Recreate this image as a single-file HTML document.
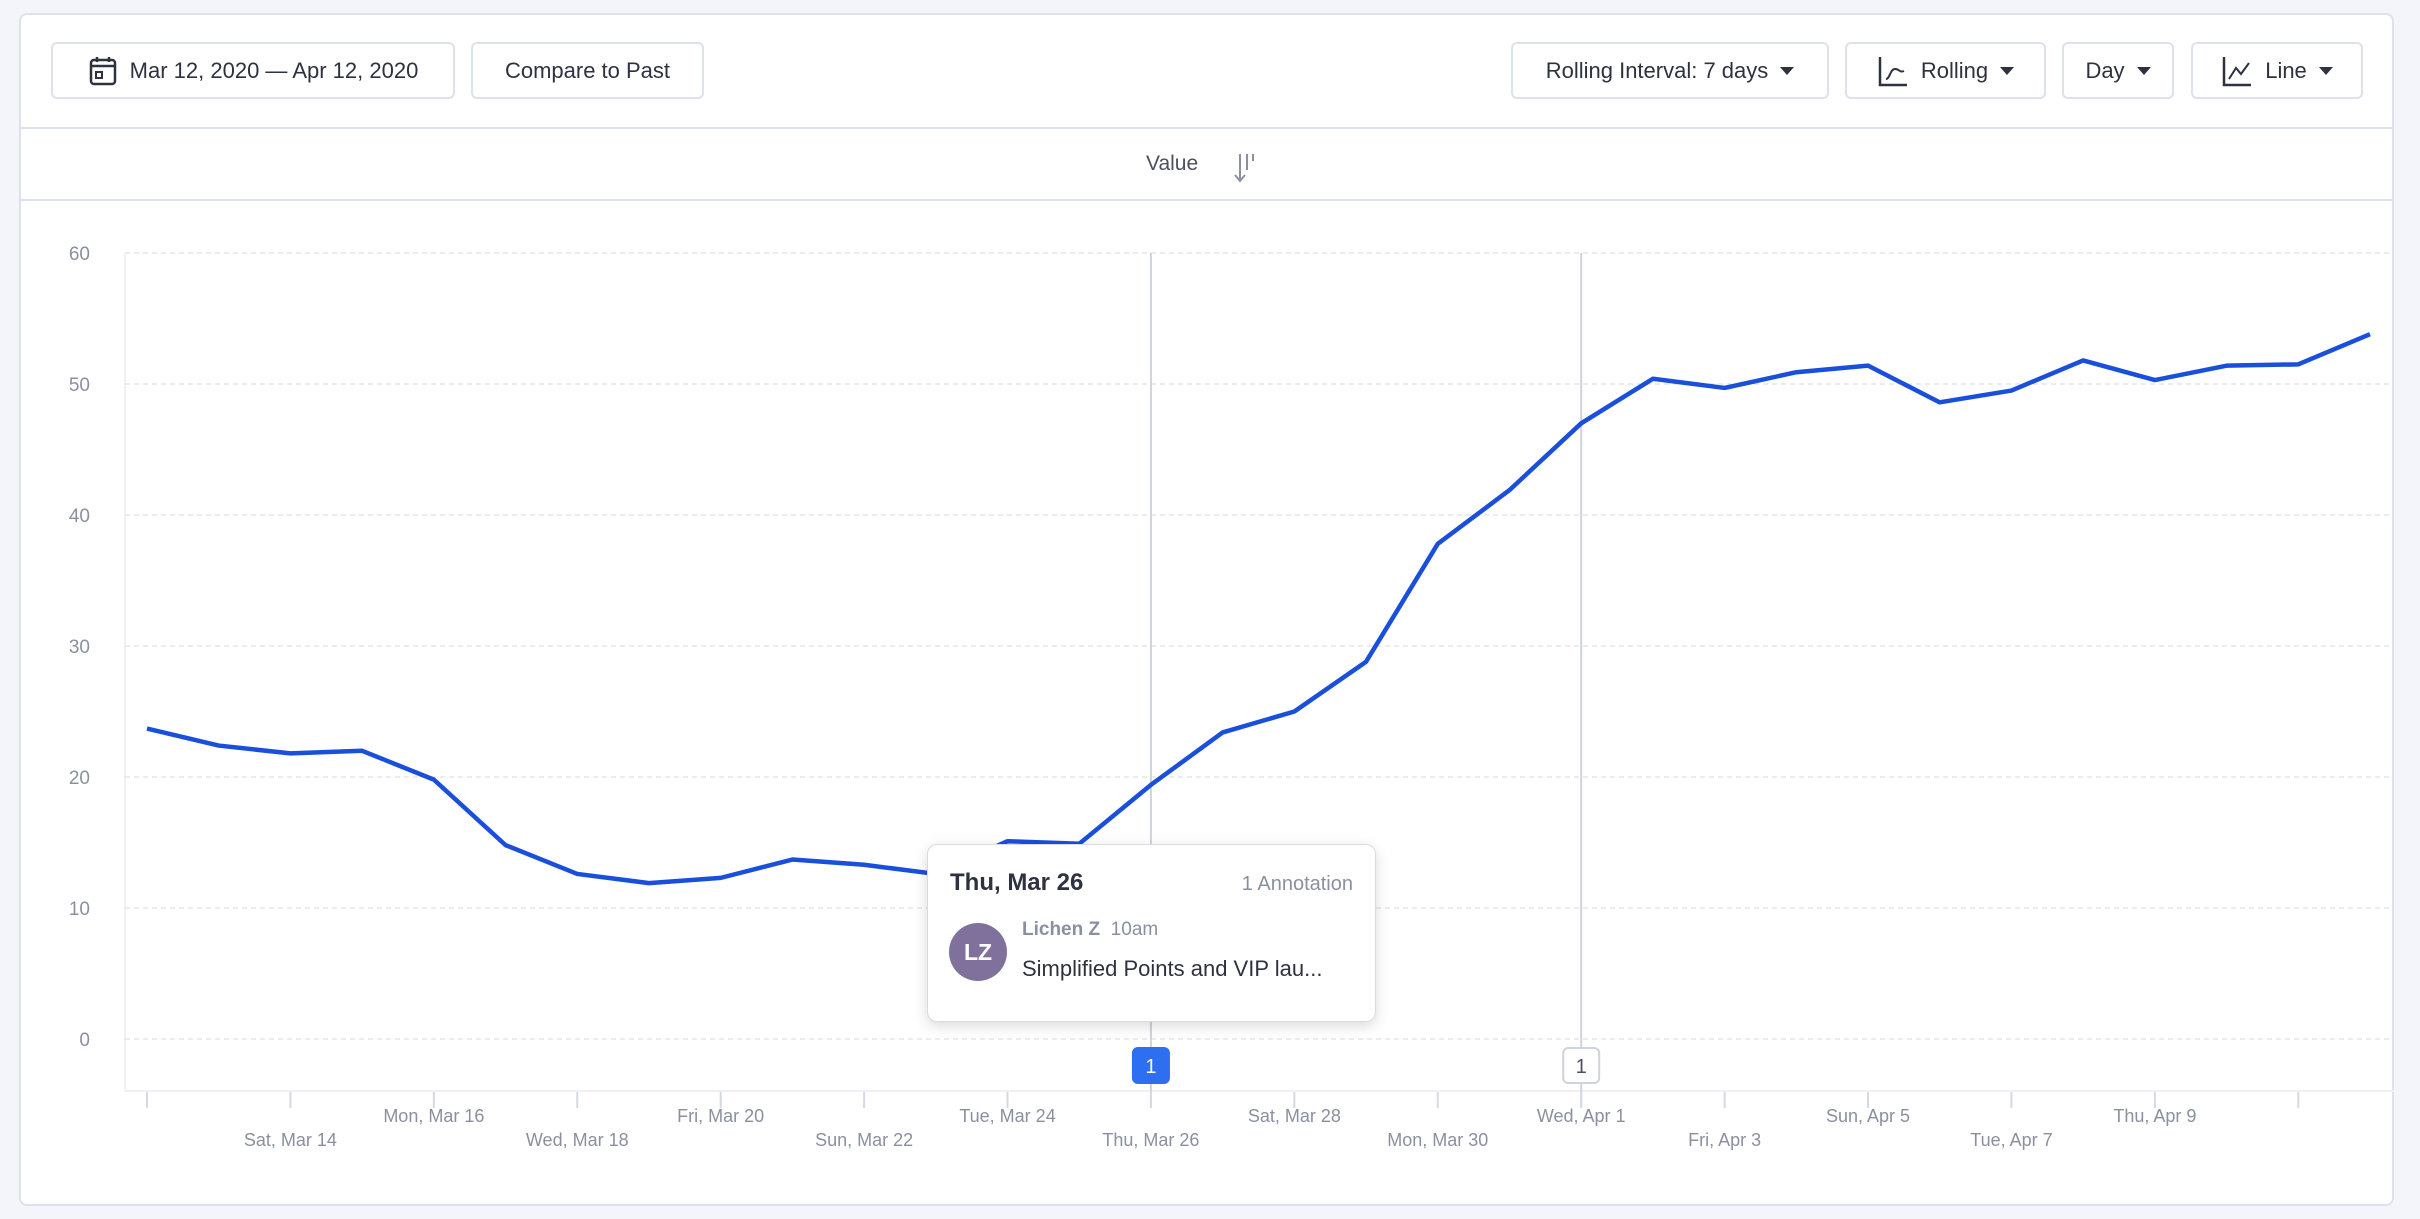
<!DOCTYPE html>
<html><head><meta charset="utf-8"><style>
body{margin:0;width:2420px;height:1219px;background:#f4f5fa;font-family:"Liberation Sans",sans-serif;overflow:hidden;position:relative}
.card{position:absolute;left:19px;top:13px;width:2375px;height:1193px;background:#fff;border:2px solid #dde1ec;border-radius:8px;box-sizing:border-box}
.btn{position:absolute;top:42px;height:57px;border:2px solid #dde1ec;border-radius:6px;box-sizing:border-box;background:#fff;color:#2e3240;font-size:22px;display:flex;align-items:center;justify-content:center;gap:12px}
.caret{width:0;height:0;border-left:7px solid transparent;border-right:7px solid transparent;border-top:8px solid #2e3240}
.hr{position:absolute;left:19px;width:2375px;height:2px;background:#dde1ec}
</style></head><body>
<div class="card"></div>
<div class="btn" style="left:51px;width:404px">
<svg width="30" height="32" viewBox="0 0 30 32"><rect x="3" y="5" width="24" height="24" rx="3" fill="none" stroke="#2e3240" stroke-width="2.5"/><line x1="3" y1="11" x2="27" y2="11" stroke="#2e3240" stroke-width="2.5"/><line x1="9" y1="2" x2="9" y2="7" stroke="#2e3240" stroke-width="2.5"/><line x1="21" y1="2" x2="21" y2="7" stroke="#2e3240" stroke-width="2.5"/><rect x="8" y="17" width="6" height="6" fill="none" stroke="#2e3240" stroke-width="2"/></svg>
<span>Mar 12, 2020 — Apr 12, 2020</span></div>
<div class="btn" style="left:471px;width:233px">Compare to Past</div>
<div class="btn" style="left:1511px;width:318px"><span>Rolling Interval: 7 days</span><div class="caret"></div></div>
<div class="btn" style="left:1845px;width:201px"><svg width="32" height="32"><path d="M3 2V30H30" fill="none" stroke="#2e3240" stroke-width="2.5"/><path d="M9 24C13 24 13 14 18 14S22 18 27 16" fill="none" stroke="#2e3240" stroke-width="2"/></svg><span>Rolling</span><div class="caret"></div></div>
<div class="btn" style="left:2062px;width:112px"><span>Day</span><div class="caret"></div></div>
<div class="btn" style="left:2191px;width:172px"><svg width="32" height="32"><path d="M3 2V30H30" fill="none" stroke="#2e3240" stroke-width="2.5"/><path d="M8 24L15 13L20 19L28 8" fill="none" stroke="#2e3240" stroke-width="2"/></svg><span>Line</span><div class="caret"></div></div>
<div class="hr" style="top:127px"></div>
<div class="hr" style="top:199px"></div>
<div style="position:absolute;left:1146px;top:152px;font-size:21px;color:#4a5060">Value</div>
<svg style="position:absolute;left:1232px;top:150px" width="26" height="36"><path d="M8 4V30M3 25L8 31L13 25" fill="none" stroke="#8a90a0" stroke-width="2"/><line x1="15" y1="4" x2="15" y2="20" stroke="#8a90a0" stroke-width="2"/><line x1="21" y1="4" x2="21" y2="11" stroke="#8a90a0" stroke-width="2"/></svg>
<svg id="chart" style="position:absolute;left:0;top:0" width="2420" height="1219"></svg>
<div style="position:absolute;left:927px;top:844px;width:449px;height:178px;background:#fff;border:1px solid #d8dbe3;border-radius:10px;box-shadow:0 4px 14px rgba(0,0,0,.15);box-sizing:border-box">
<div style="position:absolute;left:22px;top:24px;font-size:24px;font-weight:bold;color:#2e3240">Thu, Mar 26</div>
<div style="position:absolute;right:22px;top:28px;font-size:20px;color:#8a90a0">1 Annotation</div>
<div style="position:absolute;left:21px;top:78px;width:58px;height:58px;border-radius:50%;background:#7f719c;color:#fff;font-size:23px;font-weight:bold;display:flex;align-items:center;justify-content:center">LZ</div>
<div style="position:absolute;left:94px;top:74px;font-size:19px;color:#8a90a0"><b>Lichen Z</b>&nbsp; 10am</div>
<div style="position:absolute;left:94px;top:111px;font-size:22px;color:#2e3240">Simplified Points and VIP lau...</div>
</div>
<script>
const labels=["Mar 12","Mar 13","Mar 14","Mar 15","Mar 16","Mar 17","Mar 18","Mar 19","Mar 20","Mar 21","Mar 22","Mar 23","Mar 24","Mar 25","Mar 26","Mar 27","Mar 28","Mar 29","Mar 30","Mar 31","Apr 1","Apr 2","Apr 3","Apr 4","Apr 5","Apr 6","Apr 7","Apr 8","Apr 9","Apr 10","Apr 11","Apr 12"];
const values=[23.7,22.4,21.8,22.0,19.8,14.8,12.6,11.9,12.3,13.7,13.3,12.6,15.1,14.9,19.4,23.4,25.0,28.8,37.8,41.9,47.0,50.4,49.7,50.9,51.4,48.6,49.5,51.8,50.3,51.4,51.5,53.8];
const yTicks=[0,10,20,30,40,50,60];
const tickLabels=["","Sat, Mar 14","Mon, Mar 16","Wed, Mar 18","Fri, Mar 20","Sun, Mar 22","Tue, Mar 24","Thu, Mar 26","Sat, Mar 28","Mon, Mar 30","Wed, Apr 1","Fri, Apr 3","Sun, Apr 5","Tue, Apr 7","Thu, Apr 9",""];
const annotations=[14,20];
const ns="http://www.w3.org/2000/svg",svg=document.getElementById("chart");
const X=i=>147+i*(2370-147)/(labels.length-1);
const Y=v=>1039-v*(1039-253)/60;
function mk(t,a,p){const e=document.createElementNS(ns,t);for(const k in a)e.setAttribute(k,a[k]);(p||svg).appendChild(e);return e;}
mk("line",{x1:125,y1:1091,x2:2394,y2:1091,stroke:"#eef0f5","stroke-width":2});
mk("line",{x1:125,y1:253,x2:125,y2:1091,stroke:"#f0f1f5","stroke-width":2});
yTicks.forEach(v=>{
const g=mk("line",{x1:125,x2:2394,y1:Y(v),y2:Y(v),stroke:"#e3e5ec","stroke-width":1.5,"stroke-dasharray":"5,4"});


const t=mk("text",{x:90,y:Y(v)+7,"text-anchor":"end","font-size":19,fill:"#8a90a0"});t.textContent=v;


});
annotations.forEach(i=>{
mk("line",{x1:X(i),x2:X(i),y1:253,y2:1108,stroke:"#cfd3dc","stroke-width":2});
});
tickLabels.forEach((l,k)=>{
const i=k*2,x=X(i);
mk("line",{x1:x,x2:x,y1:1092,y2:1108,stroke:"#d5d9e3","stroke-width":2});
if(l){const t=mk("text",{x:x,y:(k%2?1146:1122),"text-anchor":"middle","font-size":18,fill:"#8a90a0"});t.textContent=l;

}
});
const line=mk("polyline",{points:values.map((v,i)=>X(i)+","+Y(v)).join(" "),fill:"none",stroke:"#1a4fdc","stroke-width":4.5,"stroke-linejoin":"round"});


annotations.forEach((i,n)=>{
const r=mk("rect",{x:X(i)-18,y:1048,width:36,height:35,rx:5,fill:n==0?"#2d6ff0":"#fff",stroke:n==0?"#2d6ff0":"#cfd3dc","stroke-width":2});


const t=mk("text",{x:X(i),y:1073,"text-anchor":"middle","font-size":20,fill:n==0?"#fff":"#4a5060"});t.textContent="1";
});
</script>
</body></html>
